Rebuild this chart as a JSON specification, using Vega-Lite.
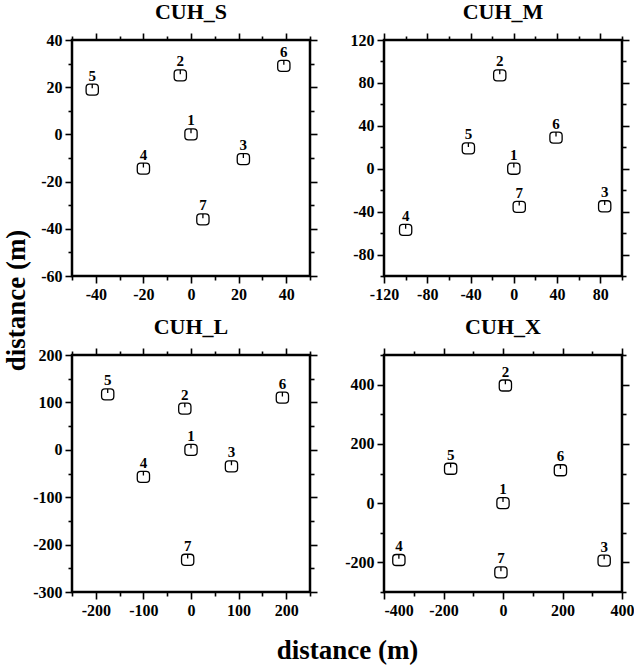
{
  "$schema": "https://vega.github.io/schema/vega-lite/v6.json",
  "background": "white",
  "padding": {"left": 0, "top": -1, "right": 0, "bottom": 5},
  "config": {
    "view": {"stroke": "black", "strokeWidth": 2.5},
    "axis": {"domain": false, "grid": false, "tickColor": "black", "tickWidth": 1.6, "labelFont": "Liberation Serif", "labelFontWeight": "bold", "labelFontSize": 16, "labelColor": "black", "labelPadding": 3, "labelFlush": false, "labelOverlap": false, "titleFont": "Liberation Serif", "titleFontWeight": "bold", "titleColor": "black", "titleFontSize": 27},
    "title": {"font": "Liberation Serif", "fontWeight": "bold", "fontSize": 22, "color": "black", "offset": 8, "anchor": "middle"}
  },
  "data": {"values": [
    {"panel": "CUH_S", "id": "1", "x": 0, "y": 0},
    {"panel": "CUH_S", "id": "2", "x": -4.5, "y": 25},
    {"panel": "CUH_S", "id": "3", "x": 22, "y": -10.5},
    {"panel": "CUH_S", "id": "4", "x": -20, "y": -14.5},
    {"panel": "CUH_S", "id": "5", "x": -41.5, "y": 19},
    {"panel": "CUH_S", "id": "6", "x": 39, "y": 29},
    {"panel": "CUH_S", "id": "7", "x": 5, "y": -36},
    {"panel": "CUH_M", "id": "1", "x": 0, "y": 0},
    {"panel": "CUH_M", "id": "2", "x": -13, "y": 87},
    {"panel": "CUH_M", "id": "3", "x": 84, "y": -35},
    {"panel": "CUH_M", "id": "4", "x": -100, "y": -57},
    {"panel": "CUH_M", "id": "5", "x": -42, "y": 19},
    {"panel": "CUH_M", "id": "6", "x": 39, "y": 29},
    {"panel": "CUH_M", "id": "7", "x": 5, "y": -35.5},
    {"panel": "CUH_L", "id": "1", "x": 0, "y": 0},
    {"panel": "CUH_L", "id": "2", "x": -13, "y": 87},
    {"panel": "CUH_L", "id": "3", "x": 85, "y": -35},
    {"panel": "CUH_L", "id": "4", "x": -100, "y": -57},
    {"panel": "CUH_L", "id": "5", "x": -175, "y": 117},
    {"panel": "CUH_L", "id": "6", "x": 192, "y": 110},
    {"panel": "CUH_L", "id": "7", "x": -7, "y": -232},
    {"panel": "CUH_X", "id": "1", "x": 0, "y": 0},
    {"panel": "CUH_X", "id": "2", "x": 8, "y": 397},
    {"panel": "CUH_X", "id": "3", "x": 340, "y": -194},
    {"panel": "CUH_X", "id": "4", "x": -350, "y": -192},
    {"panel": "CUH_X", "id": "5", "x": -176, "y": 116},
    {"panel": "CUH_X", "id": "6", "x": 193, "y": 111},
    {"panel": "CUH_X", "id": "7", "x": -7, "y": -234}
  ]},
  "bounds": "flush",
  "columns": 2,
  "spacing": {"row": 79, "column": 74},
  "concat": [
    {
      "width": 238, "height": 236,
      "title": "CUH_S",
      "transform": [{"filter": "datum.panel === 'CUH_S'"}],
      "layer": [
        {
          "mark": {"type": "point", "shape": "M -0.45 -0.9 L 0.45 -0.9 Q 1 -0.9 1 -0.35 L 1 0.35 Q 1 0.9 0.45 0.9 L -0.45 0.9 Q -1 0.9 -1 0.35 L -1 -0.35 Q -1 -0.9 -0.45 -0.9 Z M 0 -1.0 L 0 -0.2", "filled": false, "stroke": "black", "strokeWidth": 1.3, "size": 150, "opacity": 1},
          "encoding": {
            "x": {"field": "x", "type": "quantitative", "scale": {"domain": [-50, 50], "nice": false, "zero": false},
              "axis": {"orient": "bottom", "title": null, "values": [-50, -40, -30, -20, -10, 0, 10, 20, 30, 40, 50], "labelExpr": "datum.value % 20 === 0 ? '' + datum.value : ''", "tickSize": {"condition": {"test": "datum.value % 20 === 0", "value": 7}, "value": 4}}},
            "y": {"field": "y", "type": "quantitative", "scale": {"domain": [-60, 40], "nice": false, "zero": false},
              "axis": {"orient": "left", "title": "distance (m)", "titleX": -48, "titleY": 260, "titleAngle": -90, "titleAlign": "center", "titleBaseline": "alphabetic", "values": [-60, -50, -40, -30, -20, -10, 0, 10, 20, 30, 40], "labelExpr": "datum.value % 20 === 0 ? '' + datum.value : ''", "tickSize": {"condition": {"test": "datum.value % 20 === 0", "value": 7}, "value": 4}}}
          }
        },
        {
          "mark": {"type": "text", "dy": -9, "baseline": "alphabetic", "font": "Liberation Serif", "fontWeight": "bold", "fontSize": 15, "color": "black"},
          "encoding": {
            "x": {"field": "x", "type": "quantitative", "axis": {"orient": "top", "title": null, "labels": false, "values": [-50, -40, -30, -20, -10, 0, 10, 20, 30, 40, 50], "tickSize": {"condition": {"test": "datum.value % 20 === 0", "value": 7}, "value": 4}}},
            "y": {"field": "y", "type": "quantitative", "axis": {"orient": "right", "title": null, "labels": false, "values": [-60, -50, -40, -30, -20, -10, 0, 10, 20, 30, 40], "tickSize": {"condition": {"test": "datum.value % 20 === 0", "value": 7}, "value": 4}}},
            "text": {"field": "id"}
          }
        }
      ],
      "resolve": {"axis": {"x": "independent", "y": "independent"}}
    },
    {
      "width": 238, "height": 236,
      "title": "CUH_M",
      "transform": [{"filter": "datum.panel === 'CUH_M'"}],
      "layer": [
        {
          "mark": {"type": "point", "shape": "M -0.45 -0.9 L 0.45 -0.9 Q 1 -0.9 1 -0.35 L 1 0.35 Q 1 0.9 0.45 0.9 L -0.45 0.9 Q -1 0.9 -1 0.35 L -1 -0.35 Q -1 -0.9 -0.45 -0.9 Z M 0 -1.0 L 0 -0.2", "filled": false, "stroke": "black", "strokeWidth": 1.3, "size": 150, "opacity": 1},
          "encoding": {
            "x": {"field": "x", "type": "quantitative", "scale": {"domain": [-120, 100], "nice": false, "zero": false},
              "axis": {"orient": "bottom", "title": null, "values": [-120, -100, -80, -60, -40, -20, 0, 20, 40, 60, 80, 100], "labelExpr": "datum.value % 40 === 0 ? '' + datum.value : ''", "tickSize": {"condition": {"test": "datum.value % 40 === 0", "value": 7}, "value": 4}}},
            "y": {"field": "y", "type": "quantitative", "scale": {"domain": [-100, 120], "nice": false, "zero": false},
              "axis": {"orient": "left", "title": null, "values": [-100, -80, -60, -40, -20, 0, 20, 40, 60, 80, 100, 120], "labelExpr": "datum.value % 40 === 0 ? '' + datum.value : ''", "tickSize": {"condition": {"test": "datum.value % 40 === 0", "value": 7}, "value": 4}}}
          }
        },
        {
          "mark": {"type": "text", "dy": -9, "baseline": "alphabetic", "font": "Liberation Serif", "fontWeight": "bold", "fontSize": 15, "color": "black"},
          "encoding": {
            "x": {"field": "x", "type": "quantitative", "axis": {"orient": "top", "title": null, "labels": false, "values": [-120, -100, -80, -60, -40, -20, 0, 20, 40, 60, 80, 100], "tickSize": {"condition": {"test": "datum.value % 40 === 0", "value": 7}, "value": 4}}},
            "y": {"field": "y", "type": "quantitative", "axis": {"orient": "right", "title": null, "labels": false, "values": [-100, -80, -60, -40, -20, 0, 20, 40, 60, 80, 100, 120], "tickSize": {"condition": {"test": "datum.value % 40 === 0", "value": 7}, "value": 4}}},
            "text": {"field": "id"}
          }
        }
      ],
      "resolve": {"axis": {"x": "independent", "y": "independent"}}
    },
    {
      "width": 238, "height": 237,
      "title": "CUH_L",
      "transform": [{"filter": "datum.panel === 'CUH_L'"}],
      "layer": [
        {
          "mark": {"type": "point", "shape": "M -0.45 -0.9 L 0.45 -0.9 Q 1 -0.9 1 -0.35 L 1 0.35 Q 1 0.9 0.45 0.9 L -0.45 0.9 Q -1 0.9 -1 0.35 L -1 -0.35 Q -1 -0.9 -0.45 -0.9 Z M 0 -1.0 L 0 -0.2", "filled": false, "stroke": "black", "strokeWidth": 1.3, "size": 150, "opacity": 1},
          "encoding": {
            "x": {"field": "x", "type": "quantitative", "scale": {"domain": [-250, 250], "nice": false, "zero": false},
              "axis": {"orient": "bottom", "title": "distance (m)", "titleX": 275, "titleY": 66, "titleAngle": 0, "titleAlign": "center", "titleBaseline": "alphabetic", "values": [-250, -200, -150, -100, -50, 0, 50, 100, 150, 200, 250], "labelExpr": "datum.value % 100 === 0 ? '' + datum.value : ''", "tickSize": {"condition": {"test": "datum.value % 100 === 0", "value": 7}, "value": 4}}},
            "y": {"field": "y", "type": "quantitative", "scale": {"domain": [-300, 200], "nice": false, "zero": false},
              "axis": {"orient": "left", "title": null, "values": [-300, -250, -200, -150, -100, -50, 0, 50, 100, 150, 200], "labelExpr": "datum.value % 100 === 0 ? '' + datum.value : ''", "tickSize": {"condition": {"test": "datum.value % 100 === 0", "value": 7}, "value": 4}}}
          }
        },
        {
          "mark": {"type": "text", "dy": -9, "baseline": "alphabetic", "font": "Liberation Serif", "fontWeight": "bold", "fontSize": 15, "color": "black"},
          "encoding": {
            "x": {"field": "x", "type": "quantitative", "axis": {"orient": "top", "title": null, "labels": false, "values": [-250, -200, -150, -100, -50, 0, 50, 100, 150, 200, 250], "tickSize": {"condition": {"test": "datum.value % 100 === 0", "value": 7}, "value": 4}}},
            "y": {"field": "y", "type": "quantitative", "axis": {"orient": "right", "title": null, "labels": false, "values": [-300, -250, -200, -150, -100, -50, 0, 50, 100, 150, 200], "tickSize": {"condition": {"test": "datum.value % 100 === 0", "value": 7}, "value": 4}}},
            "text": {"field": "id"}
          }
        }
      ],
      "resolve": {"axis": {"x": "independent", "y": "independent"}}
    },
    {
      "width": 238, "height": 237,
      "title": "CUH_X",
      "transform": [{"filter": "datum.panel === 'CUH_X'"}],
      "layer": [
        {
          "mark": {"type": "point", "shape": "M -0.45 -0.9 L 0.45 -0.9 Q 1 -0.9 1 -0.35 L 1 0.35 Q 1 0.9 0.45 0.9 L -0.45 0.9 Q -1 0.9 -1 0.35 L -1 -0.35 Q -1 -0.9 -0.45 -0.9 Z M 0 -1.0 L 0 -0.2", "filled": false, "stroke": "black", "strokeWidth": 1.3, "size": 150, "opacity": 1},
          "encoding": {
            "x": {"field": "x", "type": "quantitative", "scale": {"domain": [-400, 400], "nice": false, "zero": false},
              "axis": {"orient": "bottom", "title": null, "values": [-400, -300, -200, -100, 0, 100, 200, 300, 400], "labelExpr": "datum.value % 200 === 0 ? '' + datum.value : ''", "labelAlign": {"condition": {"test": "datum.value === -400", "value": "left"}, "value": "center"}, "tickSize": {"condition": {"test": "datum.value % 200 === 0", "value": 7}, "value": 4}}},
            "y": {"field": "y", "type": "quantitative", "scale": {"domain": [-300, 500], "nice": false, "zero": false},
              "axis": {"orient": "left", "title": null, "values": [-300, -200, -100, 0, 100, 200, 300, 400, 500], "labelExpr": "datum.value % 200 === 0 ? '' + datum.value : ''", "tickSize": {"condition": {"test": "datum.value % 200 === 0", "value": 7}, "value": 4}}}
          }
        },
        {
          "mark": {"type": "text", "dy": -9, "baseline": "alphabetic", "font": "Liberation Serif", "fontWeight": "bold", "fontSize": 15, "color": "black"},
          "encoding": {
            "x": {"field": "x", "type": "quantitative", "axis": {"orient": "top", "title": null, "labels": false, "values": [-400, -300, -200, -100, 0, 100, 200, 300, 400], "tickSize": {"condition": {"test": "datum.value % 200 === 0", "value": 7}, "value": 4}}},
            "y": {"field": "y", "type": "quantitative", "axis": {"orient": "right", "title": null, "labels": false, "values": [-300, -200, -100, 0, 100, 200, 300, 400, 500], "tickSize": {"condition": {"test": "datum.value % 200 === 0", "value": 7}, "value": 4}}},
            "text": {"field": "id"}
          }
        }
      ],
      "resolve": {"axis": {"x": "independent", "y": "independent"}}
    }
  ]
}
